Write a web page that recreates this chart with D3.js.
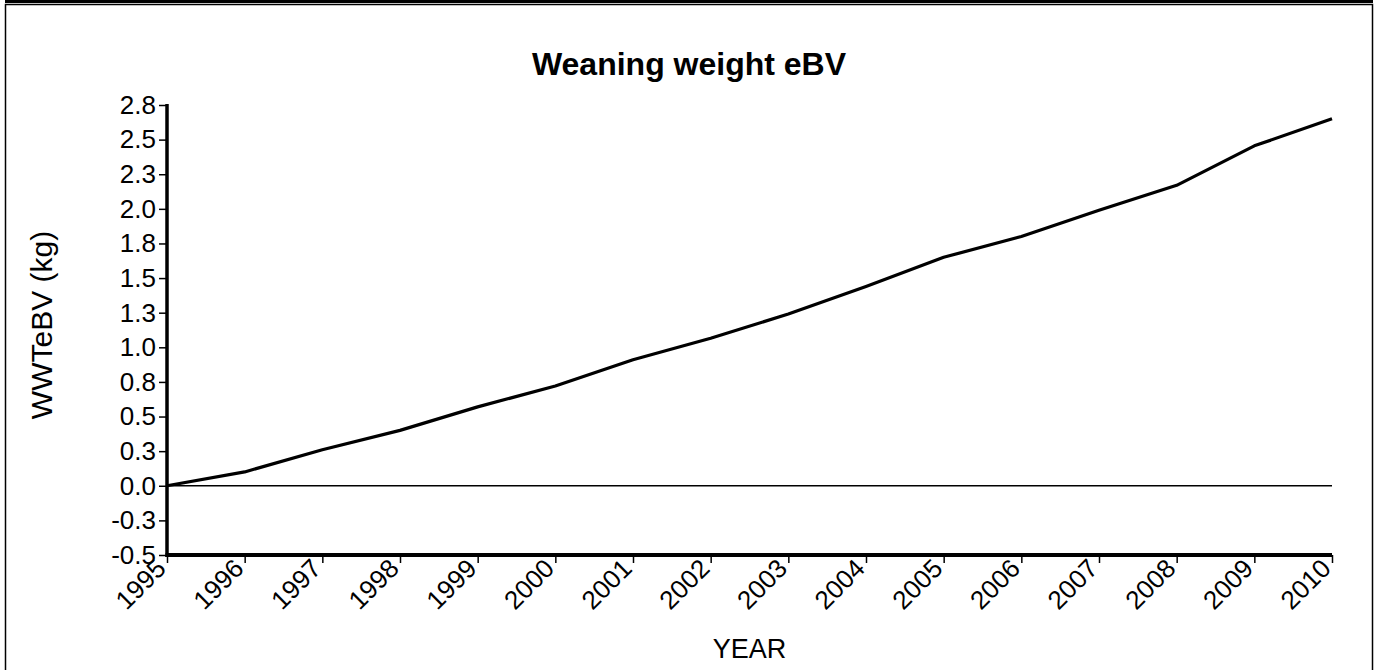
<!DOCTYPE html>
<html>
<head>
<meta charset="utf-8">
<script src="https://cdn.jsdelivr.net/npm/d3@7"></script>
<style>
html,body{margin:0;padding:0;background:#fff;overflow:hidden;}
svg{display:block;font-family:"Liberation Sans",Arial,Helvetica,sans-serif;}
</style>
</head>
<body>
<svg id="chart" width="1382" height="670"></svg>
<script>
const years = [1995,1996,1997,1998,1999,2000,2001,2002,2003,2004,2005,2006,2007,2008,2009,2010];
const wwtEbv = [0.00,0.10,0.26,0.40,0.57,0.72,0.91,1.065,1.24,1.44,1.65,1.80,1.99,2.17,2.455,2.65];
const yTickValues = [-0.5,-0.25,0,0.25,0.5,0.75,1.0,1.25,1.5,1.75,2.0,2.25,2.5,2.75];
const yTickLabels = ["-0.5","-0.3","0.0","0.3","0.5","0.8","1.0","1.3","1.5","1.8","2.0","2.3","2.5","2.8"];
const titleText = "Weaning weight eBV";
const xTitle = "YEAR";
const yTitle = "WWTeBV (kg)";

const W = 1382, H = 670;
const m = {left:167, right:W-1332, top:105, bottom:H-555};
const svg = d3.select("#chart");

// frame
svg.append("rect").attr("x",5).attr("y",0).attr("width",1368).attr("height",3).attr("fill","#000");
svg.append("rect").attr("x",5.5).attr("y",4.5).attr("width",1367).attr("height",700)
  .attr("fill","none").attr("stroke","#000").attr("stroke-width",1.5);

const x = d3.scaleLinear().domain([1995,2010]).range([m.left, W-m.right]);
const y = d3.scaleLinear().domain([-0.5,2.75]).range([H-m.bottom, m.top]);

// zero line
svg.append("line").attr("x1",x(1995)).attr("x2",x(2010)).attr("y1",y(0)).attr("y2",y(0))
  .attr("stroke","#000").attr("stroke-width",1.5);

// y axis
const yAxis = d3.axisLeft(y).tickValues(yTickValues).tickSize(8).tickPadding(3)
  .tickFormat((d,i)=>yTickLabels[i]);
const gy = svg.append("g").attr("transform",`translate(${m.left},0)`).call(yAxis);
gy.select(".domain").remove();
gy.selectAll(".tick line").attr("stroke","#000").attr("stroke-width",1.5);
gy.selectAll(".tick text").attr("font-size",26).attr("fill","#000")
  .attr("font-family","'Liberation Sans',Arial,sans-serif");
svg.append("line").attr("x1",m.left).attr("x2",m.left).attr("y1",y(2.75)-1).attr("y2",y(-0.5)+2)
  .attr("stroke","#000").attr("stroke-width",3.5);

// x axis
const xAxis = d3.axisBottom(x).tickValues(years).tickSize(8).tickFormat(d3.format("d"));
const gx = svg.append("g").attr("transform",`translate(0,${H-m.bottom})`).call(xAxis);
gx.select(".domain").remove();
gx.selectAll(".tick line").attr("stroke","#000").attr("stroke-width",1.5);
gx.selectAll(".tick text").attr("font-size",26).attr("fill","#000")
  .attr("font-family","'Liberation Sans',Arial,sans-serif")
  .attr("text-anchor","end").attr("dy",0).attr("y",0)
  .attr("transform","translate(0,15) rotate(-45)");
svg.append("line").attr("x1",m.left-1.5).attr("x2",x(2010)).attr("y1",y(-0.5)).attr("y2",y(-0.5))
  .attr("stroke","#000").attr("stroke-width",4);

// data line
const line = d3.line().x((d,i)=>x(years[i])).y(d=>y(d));
svg.append("path").datum(wwtEbv).attr("d",line).attr("fill","none")
  .attr("stroke","#000").attr("stroke-width",3.2).attr("stroke-linejoin","round");

// titles
svg.append("text").attr("x",689).attr("y",75).attr("text-anchor","middle")
  .attr("font-size",32).attr("font-weight","bold").text(titleText);
svg.append("text").attr("x",(x(1995)+x(2010))/2).attr("y",658).attr("text-anchor","middle")
  .attr("font-size",27).text(xTitle);
svg.append("text").attr("transform","translate(52,325) rotate(-90)").attr("text-anchor","middle")
  .attr("font-size",30).text(yTitle);
</script>
</body>
</html>
